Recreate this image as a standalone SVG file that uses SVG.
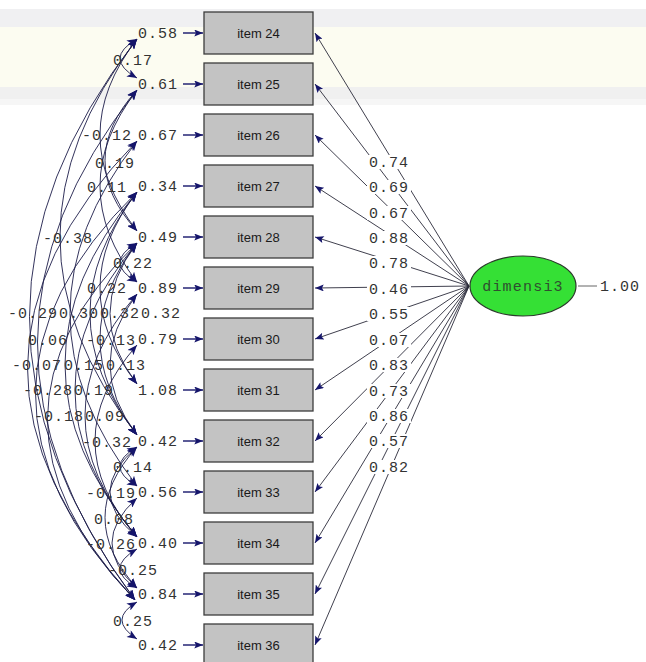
<svg xmlns="http://www.w3.org/2000/svg" width="646" height="662" viewBox="0 0 646 662">
<defs>
<marker id="ah" viewBox="0 0 10 8" refX="10" refY="4" markerWidth="12" markerHeight="8" markerUnits="userSpaceOnUse" orient="auto-start-reverse"><path d="M0,0 L10,4 L0,8 L2.5,4 Z" fill="#15156b"/></marker>
<marker id="ahs" viewBox="0 0 10 8" refX="10" refY="4" markerWidth="11" markerHeight="7" markerUnits="userSpaceOnUse" orient="auto"><path d="M0,0 L10,4 L0,8 L2,4 Z" fill="#15156b"/></marker>
</defs>
<style>
.bg{fill:#ffffff}
.box rect{fill:#c3c3c3;stroke:#3c3c3c;stroke-width:1.3}
.box text{font-family:"Liberation Sans",Arial,sans-serif;font-size:13px;fill:#1a1a1a;text-anchor:middle}
.num{font-family:"Liberation Mono","Courier New",monospace;font-size:15px;letter-spacing:1px;fill:#333}
.load{stroke:#2a2a3a;stroke-width:0.9;fill:none;marker-end:url(#ahs)}
.err{stroke:#15156b;stroke-width:1.4;fill:none;marker-end:url(#ahs)}
.arc{stroke:#1c1c4a;stroke-width:0.9;fill:none;marker-start:url(#ah);marker-end:url(#ah)}
.lblbg{fill:#ffffff}
</style>
<rect class="bg" x="0" y="0" width="646" height="662"/>
<rect x="0" y="9" width="646" height="18" fill="#f0f0f2"/>
<rect x="0" y="27" width="646" height="60" fill="#fcfcf1"/>
<rect x="0" y="87" width="646" height="12" fill="#f0f0f0"/>
<rect x="0" y="99" width="646" height="6" fill="#f6f6f6"/>

<g id="connectors">
<g id="loadings">
<path class="load" d="M469,286 L315,33"/>
<path class="load" d="M469,286 L315,84"/>
<path class="load" d="M469,286 L315,135"/>
<path class="load" d="M469,286 L315,186"/>
<path class="load" d="M469,286 L315,237"/>
<path class="load" d="M469,286 L315,288"/>
<path class="load" d="M469,286 L315,339"/>
<path class="load" d="M469,286 L315,390"/>
<path class="load" d="M469,286 L315,441"/>
<path class="load" d="M469,286 L315,492"/>
<path class="load" d="M469,286 L315,543"/>
<path class="load" d="M469,286 L315,594"/>
<path class="load" d="M469,286 L315,645"/>
<path d="M578,286 L597,286" stroke="#666" stroke-width="1" fill="none"/>
</g>
<g id="errors">
<path class="err" d="M183,33 L203,33"/>
<path class="err" d="M183,84 L203,84"/>
<path class="err" d="M183,135 L203,135"/>
<path class="err" d="M183,186 L203,186"/>
<path class="err" d="M183,237 L203,237"/>
<path class="err" d="M183,288 L203,288"/>
<path class="err" d="M183,339 L203,339"/>
<path class="err" d="M183,390 L203,390"/>
<path class="err" d="M183,441 L203,441"/>
<path class="err" d="M183,492 L203,492"/>
<path class="err" d="M183,543 L203,543"/>
<path class="err" d="M183,594 L203,594"/>
<path class="err" d="M183,645 L203,645"/>
</g>
<g id="covariances">
<path class="arc" d="M137,39 Q103,58.5 137,78"/>
<path class="arc" d="M137,39 Q63,135 137,231"/>
<path class="arc" d="M137,90 Q73,160.5 137,231"/>
<path class="arc" d="M137,90 Q63,186 137,282"/>
<path class="arc" d="M137,39 Q-17,237 137,435"/>
<path class="arc" d="M137,243 Q103,262.5 137,282"/>
<path class="arc" d="M137,192 Q63,288 137,384"/>
<path class="arc" d="M137,39 Q-77,313.5 135,600"/>
<path class="arc" d="M137,141 Q3,313.5 137,486"/>
<path class="arc" d="M137,192 Q43,313.5 137,435"/>
<path class="arc" d="M137,243 Q83,313.5 137,384"/>
<path class="arc" d="M137,90 Q-61,339 135,600"/>
<path class="arc" d="M137,243 Q63,339 137,435"/>
<path class="arc" d="M137,141 Q-81,364.5 135,600"/>
<path class="arc" d="M137,192 Q-7,364.5 137,537"/>
<path class="arc" d="M137,294 Q83,364.5 137,435"/>
<path class="arc" d="M137,192 Q-65,390 135,600"/>
<path class="arc" d="M137,243 Q13,390 137,537"/>
<path class="arc" d="M137,243 Q-41,415.5 135,600"/>
<path class="arc" d="M137,294 Q33,415.5 137,537"/>
<path class="arc" d="M137,345 Q53,441 137,537"/>
<path class="arc" d="M137,447 Q103,466.5 137,486"/>
<path class="arc" d="M137,447 Q83,492 137,537"/>
<path class="arc" d="M137,447 Q73,517.5 137,588"/>
<path class="arc" d="M137,498 Q87,543 137,588"/>
<path class="arc" d="M137,549 Q103,568.5 137,588"/>
<path class="arc" d="M137,602 Q107,619.5 137,639"/>
</g>
</g>

<g id="loading-labels">
<rect class="lblbg" x="367" y="155" width="44" height="14"/><text class="num" x="369" y="167">0.74</text>
<rect class="lblbg" x="367" y="180" width="44" height="14"/><text class="num" x="369" y="192">0.69</text>
<rect class="lblbg" x="367" y="206" width="44" height="14"/><text class="num" x="369" y="218">0.67</text>
<rect class="lblbg" x="367" y="231" width="44" height="14"/><text class="num" x="369" y="243">0.88</text>
<rect class="lblbg" x="367" y="256" width="44" height="14"/><text class="num" x="369" y="268">0.78</text>
<rect class="lblbg" x="367" y="282" width="44" height="14"/><text class="num" x="369" y="294">0.46</text>
<rect class="lblbg" x="367" y="307" width="44" height="14"/><text class="num" x="369" y="319">0.55</text>
<rect class="lblbg" x="367" y="333" width="44" height="14"/><text class="num" x="369" y="345">0.07</text>
<rect class="lblbg" x="367" y="358" width="44" height="14"/><text class="num" x="369" y="370">0.83</text>
<rect class="lblbg" x="367" y="384" width="44" height="14"/><text class="num" x="369" y="396">0.73</text>
<rect class="lblbg" x="367" y="409" width="44" height="14"/><text class="num" x="369" y="421">0.86</text>
<rect class="lblbg" x="367" y="434" width="44" height="14"/><text class="num" x="369" y="446">0.57</text>
<rect class="lblbg" x="367" y="460" width="44" height="14"/><text class="num" x="369" y="472">0.82</text>
</g>

<g id="error-labels">
<text class="num" x="138" y="38">0.58</text>
<text class="num" x="138" y="89">0.61</text>
<text class="num" x="138" y="140">0.67</text>
<text class="num" x="138" y="191">0.34</text>
<text class="num" x="138" y="242">0.49</text>
<text class="num" x="138" y="293">0.89</text>
<text class="num" x="138" y="344">0.79</text>
<text class="num" x="138" y="395">1.08</text>
<text class="num" x="138" y="446">0.42</text>
<text class="num" x="138" y="497">0.56</text>
<text class="num" x="138" y="548">0.40</text>
<text class="num" x="138" y="599">0.84</text>
<text class="num" x="138" y="650">0.42</text>
</g>

<g id="covariance-labels">
<text class="num" x="113" y="65">0.17</text>
<text class="num" x="82" y="140">-0.12</text>
<text class="num" x="95" y="168">0.19</text>
<text class="num" x="87" y="192">0.11</text>
<text class="num" x="43" y="243">-0.38</text>
<text class="num" x="113" y="268">0.22</text>
<text class="num" x="87" y="293">0.22</text>
<text class="num" x="8" y="318">-0.29</text>
<text class="num" x="59" y="318">0.30</text>
<text class="num" x="100" y="318">0.32</text>
<text class="num" x="141" y="318">0.32</text>
<text class="num" x="28" y="345">0.06</text>
<text class="num" x="86" y="345">-0.13</text>
<text class="num" x="12" y="370">-0.07</text>
<text class="num" x="64" y="370">0.15</text>
<text class="num" x="106" y="370">0.13</text>
<text class="num" x="23" y="395">-0.28</text>
<text class="num" x="74" y="395">0.19</text>
<text class="num" x="34" y="421">-0.18</text>
<text class="num" x="85" y="421">0.09</text>
<text class="num" x="82" y="447">-0.32</text>
<text class="num" x="113" y="472">0.14</text>
<text class="num" x="86" y="498">-0.19</text>
<text class="num" x="94" y="524">0.08</text>
<text class="num" x="86" y="549">-0.26</text>
<text class="num" x="108" y="575">-0.25</text>
<text class="num" x="113" y="626">0.25</text>
</g>

<g id="item24" class="box"><rect x="204" y="12" width="109" height="42"/><text x="258.5" y="38">item 24</text></g>
<g id="item25" class="box"><rect x="204" y="63" width="109" height="42"/><text x="258.5" y="89">item 25</text></g>
<g id="item26" class="box"><rect x="204" y="114" width="109" height="42"/><text x="258.5" y="140">item 26</text></g>
<g id="item27" class="box"><rect x="204" y="165" width="109" height="42"/><text x="258.5" y="191">item 27</text></g>
<g id="item28" class="box"><rect x="204" y="216" width="109" height="42"/><text x="258.5" y="242">item 28</text></g>
<g id="item29" class="box"><rect x="204" y="267" width="109" height="42"/><text x="258.5" y="293">item 29</text></g>
<g id="item30" class="box"><rect x="204" y="318" width="109" height="42"/><text x="258.5" y="344">item 30</text></g>
<g id="item31" class="box"><rect x="204" y="369" width="109" height="42"/><text x="258.5" y="395">item 31</text></g>
<g id="item32" class="box"><rect x="204" y="420" width="109" height="42"/><text x="258.5" y="446">item 32</text></g>
<g id="item33" class="box"><rect x="204" y="471" width="109" height="42"/><text x="258.5" y="497">item 33</text></g>
<g id="item34" class="box"><rect x="204" y="522" width="109" height="42"/><text x="258.5" y="548">item 34</text></g>
<g id="item35" class="box"><rect x="204" y="573" width="109" height="42"/><text x="258.5" y="599">item 35</text></g>
<g id="item36" class="box"><rect x="204" y="624" width="109" height="42"/><text x="258.5" y="650">item 36</text></g>

<g id="dimensi3">
<ellipse cx="523" cy="286" rx="53" ry="30" fill="#35e035" stroke="#2b3a2b" stroke-width="1.2"/>
<text class="num" x="523" y="291" text-anchor="middle" style="fill:#2f4f2f;font-size:15px;letter-spacing:1.2px">dimensi3</text>
</g>
<text id="var-dimensi3" class="num" x="600" y="291">1.00</text>
</svg>
